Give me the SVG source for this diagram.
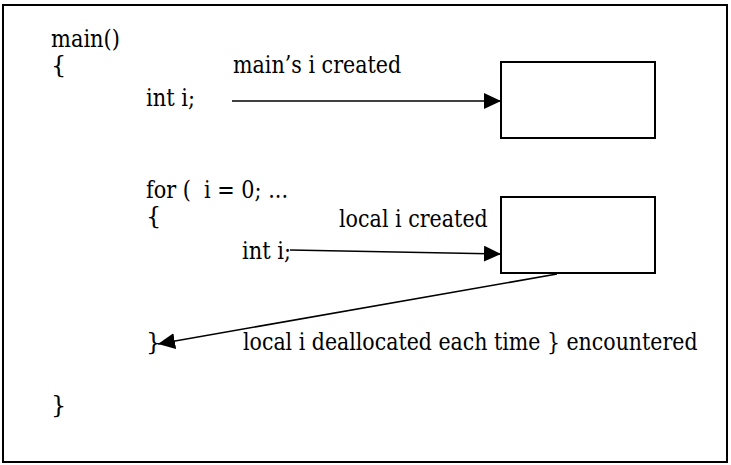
<svg xmlns="http://www.w3.org/2000/svg" width="731" height="465" viewBox="0 0 731 465">
  <style>
    text { font-family: 'DejaVu Serif', 'Liberation Serif', serif; font-size: 24px; fill: #000; white-space: pre; }
    .box { fill: #fff; stroke: #000; stroke-width: 2; }
    .conn { stroke: #000; stroke-width: 1.6; fill: none; marker-end: url(#head); }
  </style>
  <defs>
    <marker id="head" markerUnits="userSpaceOnUse" markerWidth="18" markerHeight="18" refX="17" refY="8" orient="auto">
      <path d="M0,0 L17,8 L0,16 z" fill="#000"/>
    </marker>
  </defs>

  <rect x="0" y="0" width="731" height="465" fill="#fff"/>
  <rect x="3" y="5" width="724" height="457" fill="none" stroke="#000" stroke-width="2"/>

  <!-- source code listing -->
  <g id="code">
    <text x="51" y="47" textLength="69" lengthAdjust="spacingAndGlyphs">main()</text>
    <text x="51" y="73">{</text>
    <text x="146" y="106" textLength="49" lengthAdjust="spacingAndGlyphs">int i;</text>
    <text x="146" y="198" textLength="142" lengthAdjust="spacingAndGlyphs">for (  i = 0; ...</text>
    <text x="146" y="224">{</text>
    <text x="242" y="259" textLength="49" lengthAdjust="spacingAndGlyphs">int i;</text>
    <text x="146" y="350">}</text>
    <text x="51" y="413">}</text>
  </g>

  <!-- storage boxes -->
  <g id="main-i">
    <rect class="box" x="501" y="62" width="154" height="76"/>
  </g>
  <g id="local-i">
    <rect class="box" x="501" y="197" width="154" height="76"/>
  </g>

  <!-- labels (narrowed horizontally to fit the line) -->
  <g id="labels">
    <text transform="translate(233,73) scale(0.86,1)">main’s i created</text>
    <text transform="translate(339,227) scale(0.86,1)">local i created</text>
    <text transform="translate(243,350) scale(0.855,1)">local i deallocated each time } encountered</text>
  </g>

  <!-- connectors -->
  <g id="connectors">
    <line class="conn" x1="232" y1="101" x2="501" y2="101"/>
    <line class="conn" x1="290" y1="250" x2="501" y2="254"/>
    <line class="conn" x1="557" y1="274" x2="158" y2="344"/>
  </g>
</svg>
